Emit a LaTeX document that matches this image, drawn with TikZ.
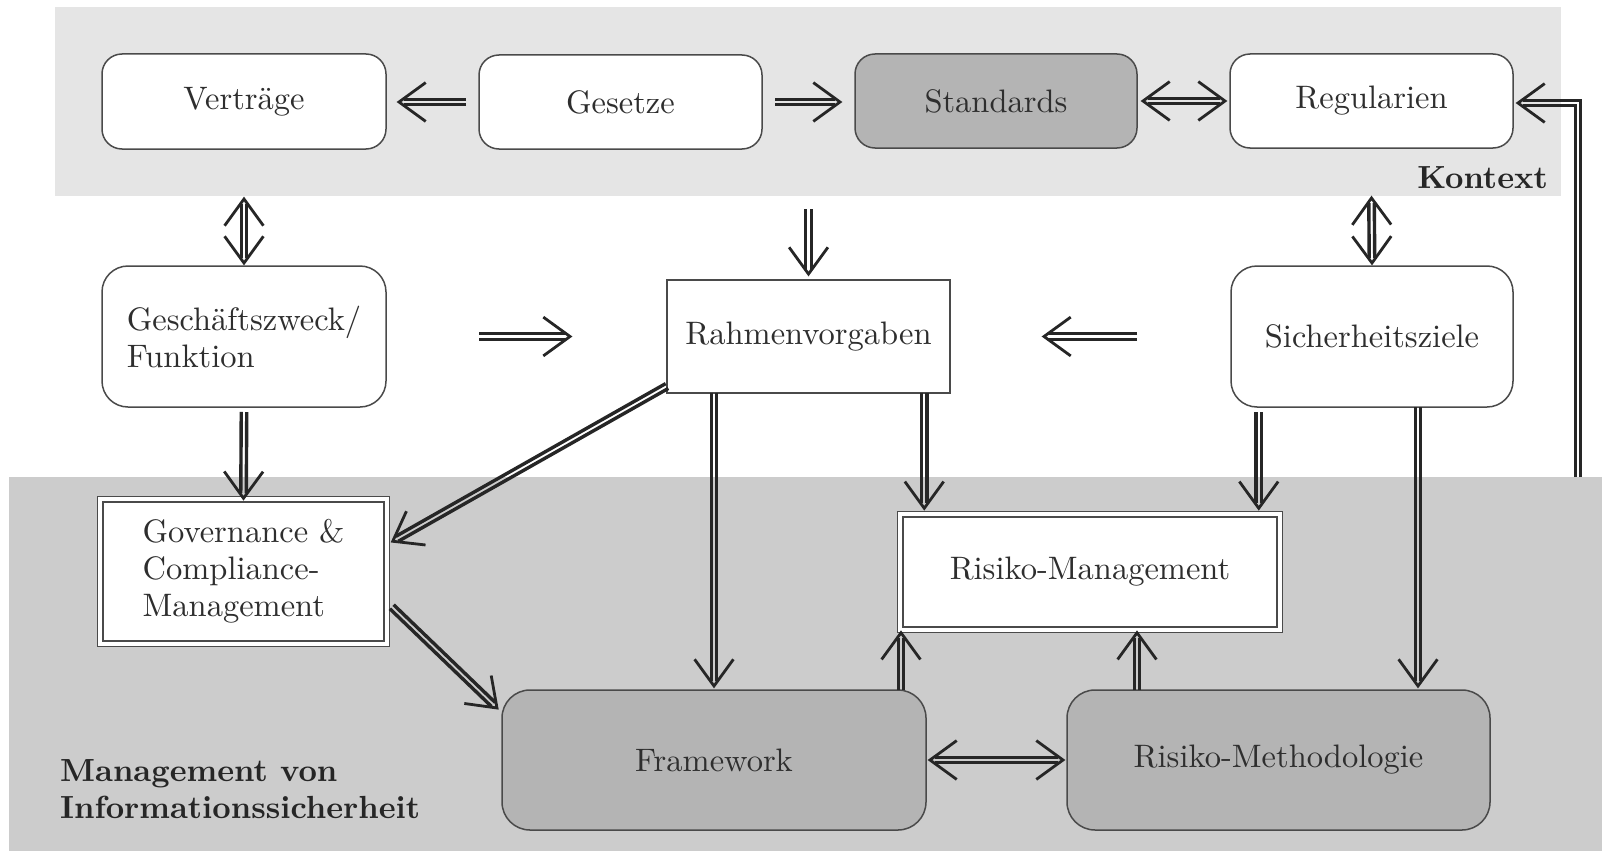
\documentclass[tikz,border=0pt]{standalone}
\usepackage{fontspec}
\setmainfont{lmroman10}[Extension=.otf, UprightFont=*-regular, BoldFont=*-bold, ItalicFont=*-italic, BoldItalicFont=*-bolditalic]
\usetikzlibrary{calc}
\definecolor{kbg}{HTML}{E5E5E5}
\definecolor{mbg}{HTML}{CCCCCC}
\definecolor{boxgray}{HTML}{B4B4B4}
\definecolor{edge}{HTML}{4A4A4A}
\definecolor{ink}{HTML}{262626}
\definecolor{txt}{HTML}{2E2E2E}
\tikzset{
  band/.style={fill=#1, draw=none, inner sep=0pt, outer sep=0pt},
  box/.style={draw=edge, line width=1.5pt, inner sep=0pt, outer sep=0pt, align=center, text=txt, font=\fontsize{32.5}{37}\selectfont},
  rbox/.style={box, fill=white, rounded corners=#1},
  gbox/.style={box, fill=boxgray, rounded corners=#1},
  sbox/.style={box, fill=white},
  dbox/.style={box, fill=white, double=white, double distance=4pt, line width=1.3pt},
  lbl/.style={inner sep=0pt, text=ink, font=\fontsize{32}{37}\selectfont\bfseries},
  rail/.style={draw=ink, line width=3.4pt, line cap=butt, line join=miter},
  chev/.style={draw=ink, line width=2.8pt, line cap=butt, line join=miter},
}
% single-headed double arrow: #1 start, #2 tip (coordinate names)
\newcommand\darrow[2]{%
  \draw[rail, shorten >=5pt] ($(#1)!2.75pt!90:(#2)$) -- ($(#2)!2.75pt!-90:(#1)$);
  \draw[rail, shorten >=5pt] ($(#1)!2.75pt!-90:(#2)$) -- ($(#2)!2.75pt!90:(#1)$);
  \draw[chev] ($(#2)!33pt!36:(#1)$) -- (#2) -- ($(#2)!33pt!-36:(#1)$);
}
% double-headed double arrow
\newcommand\ddarrow[2]{%
  \draw[rail, shorten >=5pt, shorten <=5pt] ($(#1)!2.75pt!90:(#2)$) -- ($(#2)!2.75pt!-90:(#1)$);
  \draw[rail, shorten >=5pt, shorten <=5pt] ($(#1)!2.75pt!-90:(#2)$) -- ($(#2)!2.75pt!90:(#1)$);
  \draw[chev] ($(#2)!33pt!36:(#1)$) -- (#2) -- ($(#2)!33pt!-36:(#1)$);
  \draw[chev] ($(#1)!33pt!36:(#2)$) -- (#1) -- ($(#1)!33pt!-36:(#2)$);
}
\begin{document}
\begin{tikzpicture}[x=1pt, y=-1pt]
\useasboundingbox[fill=white] (0,0) rectangle (1602,851);
% bands
\node[band=kbg, minimum width=1506pt, minimum height=189pt] (kontext) at (808,101.5) {};
\node[band=mbg, minimum width=1593pt, minimum height=374pt] (mgmt) at (805.5,664) {};
% boxes
\node[rbox=20pt, minimum width=284pt, minimum height=95pt] (vert) at (244,101.5) {Verträge};
\node[rbox=20pt, minimum width=283pt, minimum height=94pt] (ges) at (620.5,102) {Gesetze};
\node[gbox=20pt, minimum width=282pt, minimum height=94pt] (std) at (996,101) {Standards};
\node[rbox=20pt, minimum width=283pt, minimum height=94pt] (reg) at (1371.5,101) {Regularien};
\node[rbox=26pt, minimum width=284pt, minimum height=141pt, align=left] (gesch) at (244,336.5) {Geschäftszweck/\\Funktion};
\node[sbox, minimum width=283pt, minimum height=113pt] (rahmen) at (808.5,336.5) {Rahmenvorgaben};
\node[rbox=26pt, minimum width=282pt, minimum height=141pt] (sich) at (1372,336.5) {Sicherheitsziele};
\node[dbox, minimum width=286.5pt, minimum height=144.5pt, align=left] (gov) at (243.5,571.5) {Governance \&\\Compliance-\\Management};
\node[dbox, minimum width=379.5pt, minimum height=115.5pt] (rm) at (1090,572) {Risiko-Management};
\node[gbox=28pt, minimum width=424pt, minimum height=140pt] (frame) at (714,760) {Framework};
\node[gbox=28pt, minimum width=423pt, minimum height=140pt] (meth) at (1278.5,760) {Risiko-Methodologie};
% labels
\node[lbl, anchor=base east] (klabel) at (1548,188) {Kontext};
\node[lbl, anchor=north west, align=left] (mlabel) at (60,759) {Management von\\Informationssicherheit};
% arrow end points
\coordinate (a1s) at ([xshift=-13pt]ges.west);
\coordinate (k1) at (ges.west -| vert.east);
\coordinate (a1t) at ([xshift=13pt]k1);
\coordinate (a2s) at ([xshift=13pt]ges.east);
\coordinate (k2) at (ges.east -| std.west);
\coordinate (a2t) at ([xshift=-15pt]k2);
\coordinate (a3s) at ([xshift=6pt]std.east);
\coordinate (k3) at (std.east -| reg.west);
\coordinate (a3t) at ([xshift=-5pt]k3);
\coordinate (a4s) at ([yshift=-50pt]vert.south);
\coordinate (a4t) at ([yshift=3pt]gesch.north);
\coordinate (k5) at (kontext.south -| rahmen.north);
\coordinate (a5s) at ([yshift=-13pt]k5);
\coordinate (a5t) at ([yshift=6pt]rahmen.north);
\coordinate (a6s) at ([yshift=-50pt]reg.south);
\coordinate (a6t) at ([yshift=3pt]sich.north);
\coordinate (a7s) at ([xshift=93pt]gesch.east);
\coordinate (a7t) at ([xshift=-97pt]rahmen.west);
\coordinate (a8s) at ([xshift=-94pt]sich.west);
\coordinate (a8t) at ([xshift=94pt]rahmen.east);
\coordinate (a9s) at ([yshift=-5pt]gesch.south);
\coordinate (a9t) at ([yshift=1pt]gov.north);
\coordinate (a10s) at ([yshift=7pt]rahmen.south west);
\coordinate (a10t) at ([xshift=6pt,yshift=-42pt]gov.north east);
\coordinate (a11s) at (rahmen.south -| frame.north);
\coordinate (a11t) at ([yshift=4pt]frame.north);
\coordinate (a12t) at ([xshift=24pt,yshift=6pt]rm.north west);
\coordinate (a12s) at (rahmen.south -| a12t);
\coordinate (a13t) at ([xshift=-21pt,yshift=6pt]rm.north east);
\coordinate (k13) at (sich.south -| a13t);
\coordinate (a13s) at ([yshift=-5pt]k13);
\coordinate (a14t) at ([xshift=-72pt,yshift=4pt]meth.north east);
\coordinate (a14s) at (sich.south -| a14t);
\coordinate (a15s) at ([xshift=5pt,yshift=37pt]gov.south east);
\coordinate (a15t) at ([xshift=-5pt,yshift=-18pt]frame.north west);
\coordinate (a16s) at ([xshift=-25pt]frame.north east);
\coordinate (k16) at (rm.south -| a16s);
\coordinate (a16t) at ([yshift=-3pt]k16);
\coordinate (a17s) at ([xshift=70pt]meth.north west);
\coordinate (k17) at (rm.south -| a17s);
\coordinate (a17t) at ([yshift=-3pt]k17);
\coordinate (a18s) at ([xshift=4pt]frame.east);
\coordinate (a18t) at ([xshift=-4pt]meth.west);
% arrows
\darrow{a1s}{a1t}
\darrow{a2s}{a2t}
\ddarrow{a3s}{a3t}
\ddarrow{a4s}{a4t}
\darrow{a5s}{a5t}
\ddarrow{a6s}{a6t}
\darrow{a7s}{a7t}
\darrow{a8s}{a8t}
\darrow{a9s}{a9t}
\darrow{a10s}{a10t}
\darrow{a11s}{a11t}
\darrow{a12s}{a12t}
\darrow{a13s}{a13t}
\darrow{a14s}{a14t}
\darrow{a15s}{a15t}
\darrow{a16s}{a16t}
\darrow{a17s}{a17t}
\ddarrow{a18s}{a18t}
% long return arrow to Regularien
\coordinate (rstart) at (1578,477);
\coordinate (rtip) at ([xshift=5pt,yshift=-2pt]reg.east);
\coordinate (rcorner) at (rstart |- rtip);
\draw[rail, shorten >=5pt] ([xshift=2.75pt]rstart) |- ([yshift=2.75pt]rtip);
\draw[rail, shorten >=5pt] ([xshift=-2.75pt]rstart) |- ([yshift=-2.75pt]rtip);
\draw[chev] ($(rtip)!33pt!36:(rcorner)$) -- (rtip) -- ($(rtip)!33pt!-36:(rcorner)$);
\end{tikzpicture}
\end{document}
